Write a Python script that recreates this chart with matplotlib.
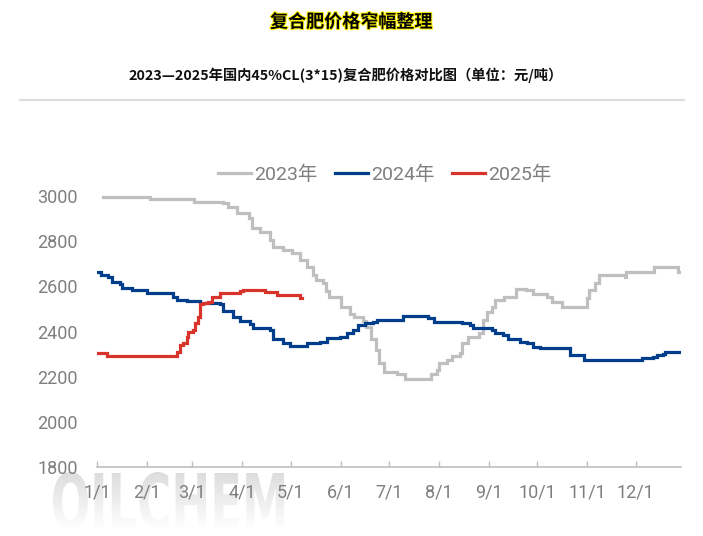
import matplotlib
matplotlib.use("Agg")
import matplotlib.pyplot as plt
import matplotlib.patheffects as pe
import numpy as np
from matplotlib.font_manager import FontProperties
from matplotlib.patches import PathPatch
from matplotlib.textpath import TextPath
from matplotlib.transforms import Affine2D

plt.rcParams["font.family"] = ["Roboto", "Noto Sans CJK SC", "DejaVu Sans"]

TITLE = "复合肥价格窄幅整理"
SUBTITLE = "2023—2025年国内45%CL(3*15)复合肥价格对比图（单位：元/吨）"

# x = day of year (1/1 = 0), values in 元/吨, step changes
DAYS_2023 = [4, 33, 60, 78, 81, 87, 94, 96, 101, 107, 109, 115, 121, 126, 130,
             134, 136, 140, 142, 144, 151, 157, 159, 165, 167, 170, 173, 175,
             178, 186, 191, 207, 211, 212, 217, 220, 225, 226, 230, 237, 239,
             242, 245, 247, 252, 260, 266, 270, 279, 282, 288, 304, 305, 309,
             311, 327, 328, 345, 360, 362]
PRICE_2023 = [2995, 2988, 2975, 2968, 2950, 2925, 2905, 2860, 2840, 2805, 2775,
              2760, 2750, 2715, 2685, 2650, 2630, 2615, 2580, 2555, 2510, 2480,
              2465, 2445, 2420, 2365, 2320, 2260, 2220, 2210, 2190, 2210, 2230,
              2260, 2275, 2290, 2305, 2350, 2375, 2395, 2450, 2485, 2510, 2540,
              2555, 2590, 2585, 2565, 2555, 2530, 2510, 2550, 2585, 2615, 2650,
              2640, 2665, 2685, 2665, 2665]

DAYS_2024 = [0, 2.5, 7, 9, 14, 15.5, 22, 31, 47, 49.6, 56, 64, 76, 78, 84, 88.6,
             95, 96.7, 107, 109, 115, 119.6, 130, 138, 142.5, 150.6, 155, 158.6,
             161.7, 166, 171, 173.5, 189.6, 205, 209, 226, 231, 233, 244.7,
             246.6, 251.5, 254.6, 262, 266.4, 270, 274.5, 293, 302, 337.7,
             344.5, 347, 350.7, 352, 362]
PRICE_2024 = [2665, 2650, 2640, 2620, 2612, 2595, 2585, 2570, 2555, 2540, 2535,
              2528, 2520, 2490, 2465, 2445, 2435, 2415, 2408, 2365, 2350, 2335,
              2350, 2355, 2372, 2378, 2395, 2408, 2430, 2438, 2443, 2452, 2470,
              2460, 2443, 2438, 2428, 2416, 2408, 2395, 2385, 2365, 2355, 2350,
              2333, 2327, 2296, 2275, 2283, 2288, 2296, 2302, 2308, 2308]

DAYS_2025 = [0, 6, 49.6, 51.4, 53, 55.8, 56.4, 59.5, 60.7, 62.6, 63.8, 65.7,
             68.8, 71, 76, 88.6, 90.5, 104, 111.5, 125.8, 127]
PRICE_2025 = [2303, 2290, 2310, 2340, 2350, 2378, 2400, 2408, 2440, 2465, 2520,
              2528, 2533, 2555, 2572, 2578, 2583, 2577, 2562, 2550, 2550]

MONTH_DAYS = [0, 31, 59, 90, 120, 151, 181, 212, 243, 273, 304, 334]
MONTH_LABELS = [f"{m}/1" for m in range(1, 13)]
Y_TICKS = [1800, 2000, 2200, 2400, 2600, 2800, 3000]

W, H = 703, 536
fig = plt.figure(figsize=(W / 100, H / 100), dpi=100)

# watermark under the x labels
wm_ax = fig.add_axes([0, 0, 1, 1], zorder=0)
wm_ax.set_xlim(0, 1)
wm_ax.set_ylim(0, 1)
wm_ax.axis("off")
tp = TextPath((0, 0), "OILCHEM", size=1,
              prop=FontProperties(family="DejaVu Sans", weight="bold"))
ext = tp.get_extents()
bx0, bx1 = 53 / W, 284 / W
by0, by1 = 1 - 530 / H, 1 - 472 / H
tr = (Affine2D().translate(-ext.x0, -ext.y0)
      .scale((bx1 - bx0) / ext.width, (by1 - by0) / ext.height)
      .translate(bx0, by0) + fig.transFigure)
wm_patch = PathPatch(tp, transform=tr, facecolor="none", edgecolor="none")
grad = np.linspace(0.86, 1.0, 100).reshape(-1, 1)
im = wm_ax.imshow(grad, extent=(bx0, bx1, by0, by1), aspect="auto",
                  cmap="gray", vmin=0, vmax=1, origin="upper")
im.set_clip_path(wm_patch)

ax = fig.add_axes([97 / W, 1 - 467 / H, (681 - 97) / W, (467 - 151) / H], zorder=2)
ax.set_facecolor("none")

ax.plot(DAYS_2023, PRICE_2023, drawstyle="steps-post", color="#BFBFBF",
        lw=2.3, label="2023年", solid_joinstyle="miter")
ax.plot(DAYS_2024, PRICE_2024, drawstyle="steps-post", color="#003D8A",
        lw=2.3, label="2024年", solid_joinstyle="miter")
ax.plot(DAYS_2025, PRICE_2025, drawstyle="steps-post", color="#D9342B",
        lw=2.3, label="2025年", solid_joinstyle="miter")

ax.set_xlim(0, 362)
ax.set_ylim(1800, 3200)
ax.set_yticks(Y_TICKS)
ax.set_xticks(MONTH_DAYS)
ax.set_xticklabels(MONTH_LABELS)

for side in ("left", "right", "top"):
    ax.spines[side].set_visible(False)
ax.spines["bottom"].set_color("#BFBFBF")
ax.spines["bottom"].set_linewidth(1.2)

ax.tick_params(axis="y", length=0, pad=14, labelsize=13, labelcolor="#7F7F7F")
ax.tick_params(axis="x", direction="in", length=4, width=1, color="#BFBFBF",
               pad=12, labelsize=13, labelcolor="#7F7F7F")

fig.legend(loc="center", bbox_to_anchor=(385 / W, 1 - 175 / H), ncol=3,
           frameon=False, fontsize=14, labelcolor="#7F7F7F", handlelength=1.7,
           handletextpad=0.15, columnspacing=0.9)

fig.text(351 / W, 1 - 22 / H, TITLE, ha="center", va="center", fontsize=13,
         fontweight="bold", family=["Noto Sans CJK SC"], color="black",
         path_effects=[pe.withStroke(linewidth=1.5, foreground="#FFF200")])
fig.text(346 / W, 1 - 75 / H, SUBTITLE, ha="center", va="center", fontsize=10.3,
         fontweight="bold", family=["Noto Sans CJK SC"], color="#111111")

fig.add_artist(plt.Line2D([20 / W, 684 / W], [1 - 100 / H, 1 - 100 / H],
                          transform=fig.transFigure, color="#DDDDDD", lw=1.6))

fig.savefig("out.png", dpi=100)
